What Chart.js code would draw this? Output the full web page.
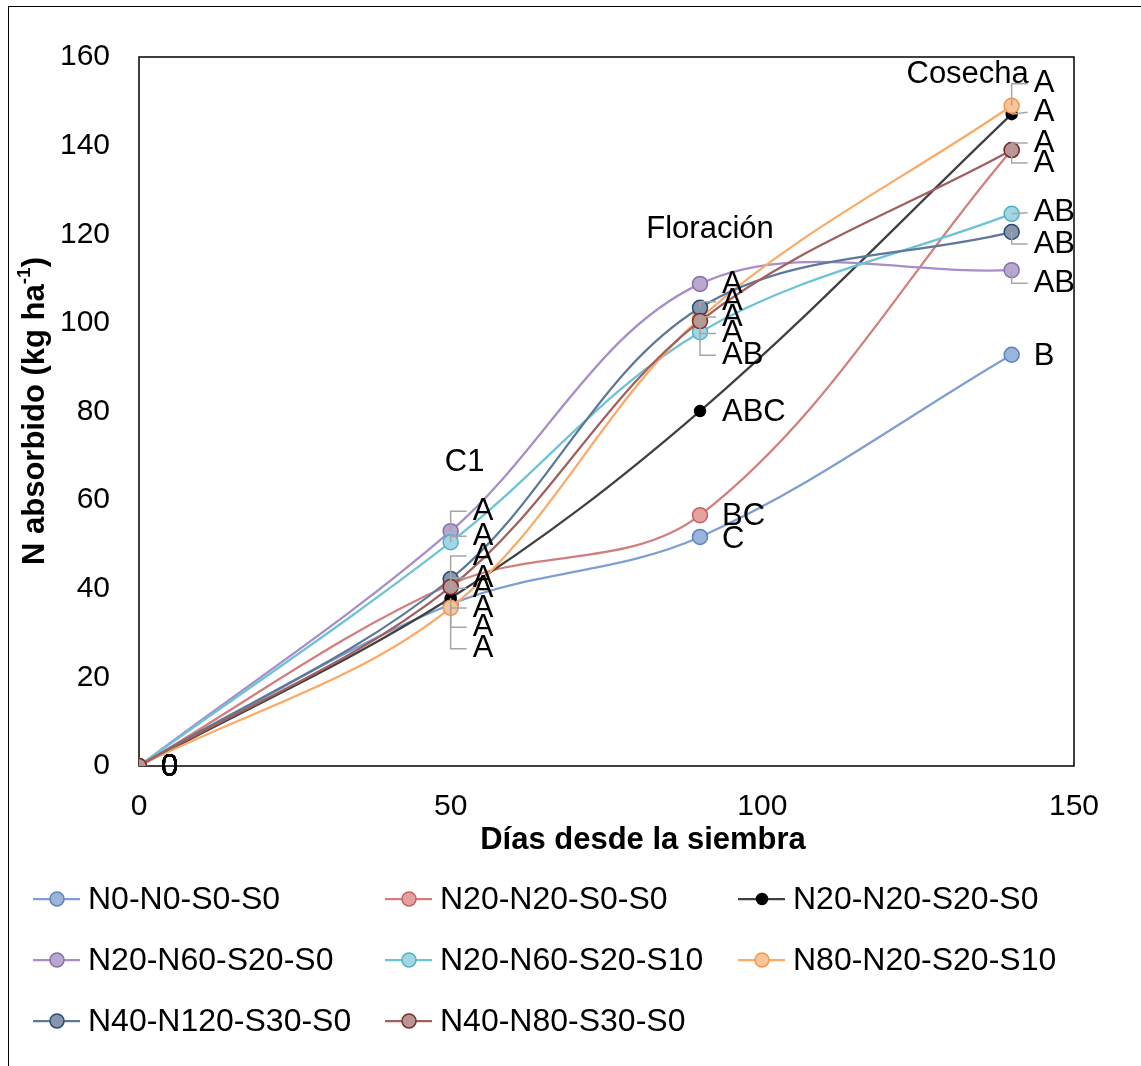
<!DOCTYPE html>
<html>
<head>
<meta charset="utf-8">
<script src="https://cdn.jsdelivr.net/npm/chart.js@4"></script>
<style>
body { margin: 0; background: #fff; overflow: hidden; }
#wrap { position: relative; width: 1141px; height: 1066px; }
#marco { position: absolute; left: 8px; top: 6px; width: 1200px; height: 1200px; border: 1.5px solid #000; pointer-events: none; }
</style>
</head>
<body>
<div id="wrap">
  <canvas id="myChart" width="1141" height="1066"></canvas>
  <div id="marco"></div>
</div>
<script>
// dias de muestreo
const dias = [0, 50, 90, 140];

const tratamientos = ['N0-N0-S0-S0', 'N20-N20-S0-S0', 'N20-N20-S20-S0', 'N20-N60-S20-S0',
  'N20-N60-S20-S10', 'N80-N20-S20-S10', 'N40-N120-S30-S0', 'N40-N80-S30-S0'];

// N absorbido (kg/ha) por tratamiento
const n0n0s0s0 = [0, 36.5, 51.7, 92.8];
const n20n20s0s0 = [0, 41, 56.6, 139];
const n20n20s20s0 = [0, 37.9, 80.1, 147.1];
const n20n60s20s0 = [0, 53.0, 108.8, 111.9];
const n20n60s20s10 = [0, 50.5, 97.9, 124.6];
const n80n20s20s10 = [0, 35.7, 101, 149.0];
const n40n120s30s0 = [0, 42.2, 103.4, 120.5];
const n40n80s30s0 = [0, 40.4, 100.4, 139.0];
const valores = [n0n0s0s0, n20n20s0s0, n20n20s20s0, n20n60s20s0, n20n60s20s10, n80n20s20s10, n40n120s30s0, n40n80s30s0];

// letras de significancia en C1, floracion y cosecha
const letrasC1 = ['A', 'A', 'A', 'A', 'A', 'A', 'A', 'A'];
const letrasFloracion = ['C', 'BC', 'ABC', 'A', 'AB', 'A', 'A', 'A'];
const letrasCosecha = ['B', 'A', 'A', 'AB', 'AB', 'A', 'AB', 'A'];
const etapas = ['C1', 'Floración', 'Cosecha'];

// colores
const colorLinea = ['#7f9fd3', '#d27e7c', '#404040', '#a78dc9', '#6dc3d6', '#fbaa66', '#5d7899', '#a0605e'];
const colorRelleno = ['#9bb4db', '#e3a2a0', '#000000', '#b8a7cf', '#a3d6e4', '#f9c49a', '#8596ad', '#b79795'];
const colorBorde = ['#5b83c1', '#c9605c', '#000000', '#8a6eab', '#4fb1c9', '#f49749', '#2b4a72', '#7a2d2b'];

// desplazamiento vertical (px) de cada etiqueta y si lleva linea guia
const despC1 = [[23, 1], [4, 1], [10, 1], [-20, 1], [-6, 1], [41, 1], [-23, 1], [-9, 1]];
const despFlor = [[3, 0], [1, 0], [1, 0], [1, 0], [23, 1], [15, 1], [-6, 1], [-4, 1]];
const despCos = [[2, 0], [13, 1], [-2, 1], [13, 1], [-1, 1], [-22, 1], [12, 1], [-7, 1]];
const posEtapas = [[50, 68.4, 14], [90, 121, 10], [140, 156, -44]];

const fuente = '"Liberation Sans", Arial, sans-serif';
Chart.defaults.font.family = fuente;
Chart.defaults.font.size = 30;
Chart.defaults.color = '#000';

const datasets = tratamientos.map((nombre, i) => ({
  label: nombre,
  data: dias.map((d, k) => ({ x: d, y: valores[i][k] })),
  borderColor: colorLinea[i],
  borderWidth: 2.25,
  backgroundColor: colorRelleno[i],
  pointBackgroundColor: colorRelleno[i],
  pointBorderColor: colorBorde[i],
  pointBorderWidth: 1.5,
  pointRadius: i === 2 ? 5.5 : 7.5,
  tension: 0.35,
  fill: false,
  order: 7 - i
}));

const extras = {
  id: 'extras',
  beforeDatasetsDraw(chart) {
    const { ctx, chartArea: a } = chart;
    ctx.save();
    ctx.strokeStyle = '#000';
    ctx.lineWidth = 1.5;
    ctx.strokeRect(a.left, a.top, a.right - a.left, a.bottom - a.top);
    ctx.restore();
  },
  afterDatasetsDraw(chart) {
    const { ctx } = chart;
    const xs = chart.scales.x, ys = chart.scales.y;
    const grupos = [[letrasC1, despC1], [letrasFloracion, despFlor], [letrasCosecha, despCos]];
    ctx.save();
    ctx.font = '31px ' + fuente;
    ctx.textBaseline = 'middle';
    ctx.textAlign = 'left';
    // etiquetas de 0 en el origen
    valores.forEach(() => ctx.fillText('0', xs.getPixelForValue(0) + 22, ys.getPixelForValue(0) + 1));
    grupos.forEach(([letras, desp], e) => {
      const k = e + 1;
      valores.forEach((serie, i) => {
        const px = xs.getPixelForValue(dias[k]);
        const py = ys.getPixelForValue(serie[k]);
        const ly = py + desp[i][0];
        const lx = px + 22;
        if (desp[i][1]) {
          ctx.strokeStyle = '#a6a6a6';
          ctx.lineWidth = 1.5;
          ctx.beginPath();
          ctx.moveTo(px, py);
          if (Math.abs(ly - py) > 3) ctx.lineTo(px, ly);
          ctx.lineTo(lx - 6, ly);
          ctx.stroke();
        }
        ctx.fillStyle = '#000';
        ctx.fillText(letras[i], lx, ly);
      });
    });
    // nombres de las etapas
    ctx.textAlign = 'center';
    etapas.forEach((t, e) => {
      const [dx, vy, off] = posEtapas[e];
      ctx.fillText(t, xs.getPixelForValue(dx) + off, ys.getPixelForValue(vy));
    });
    ctx.restore();
  },
  afterDraw(chart) {
    const { ctx } = chart;
    ctx.save();
    ctx.fillStyle = '#000';
    ctx.textBaseline = 'middle';
    // titulo eje x
    ctx.textAlign = 'center';
    ctx.font = 'bold 31px ' + fuente;
    ctx.fillText('Días desde la siembra', 643, 840);
    // titulo eje y con superindice
    ctx.translate(35, 411);
    ctx.rotate(-Math.PI / 2);
    ctx.textAlign = 'left';
    const t1 = 'N absorbido (kg ha', t2 = '-1', t3 = ')';
    ctx.font = 'bold 31px ' + fuente;
    const w1 = ctx.measureText(t1).width, w3 = ctx.measureText(t3).width;
    ctx.font = 'bold 19px ' + fuente;
    const w2 = ctx.measureText(t2).width;
    const x0 = -(w1 + w2 + w3) / 2;
    ctx.font = 'bold 31px ' + fuente;
    ctx.fillText(t1, x0, 0);
    ctx.font = 'bold 19px ' + fuente;
    ctx.fillText(t2, x0 + w1, -10);
    ctx.font = 'bold 31px ' + fuente;
    ctx.fillText(t3, x0 + w1 + w2, 0);
    ctx.restore();

    // leyenda en tres columnas
    const colX = [33, 385, 738];
    const filaY = [899, 960, 1021];
    ctx.save();
    ctx.font = '32px ' + fuente;
    ctx.textBaseline = 'middle';
    tratamientos.forEach((nombre, i) => {
      const x = colX[i % 3], y = filaY[Math.floor(i / 3)];
      ctx.strokeStyle = colorLinea[i];
      ctx.lineWidth = 2.25;
      ctx.beginPath();
      ctx.moveTo(x, y);
      ctx.lineTo(x + 47, y);
      ctx.stroke();
      ctx.beginPath();
      ctx.arc(x + 24, y, i === 2 ? 5.5 : 7, 0, Math.PI * 2);
      ctx.fillStyle = colorRelleno[i];
      ctx.fill();
      ctx.strokeStyle = colorBorde[i];
      ctx.lineWidth = 1.5;
      ctx.stroke();
      ctx.fillStyle = '#000';
      ctx.fillText(nombre, x + 55, y + 1);
    });
    ctx.restore();
  }
};

const ctx = document.getElementById('myChart').getContext('2d');
new Chart(ctx, {
  type: 'line',
  data: { datasets: datasets },
  options: {
    responsive: false,
    animation: false,
    devicePixelRatio: 1,
    layout: { padding: { left: 0, top: 57, right: 67, bottom: 206 } },
    plugins: { legend: { display: false }, tooltip: { enabled: false } },
    scales: {
      x: {
        type: 'linear', min: 0, max: 150,
        ticks: { stepSize: 50, padding: 23 },
        grid: { display: false, drawTicks: false },
        border: { display: false },
        afterFit(scale) { scale.height = 94; }
      },
      y: {
        min: 0, max: 160,
        ticks: { stepSize: 20, padding: 29 },
        grid: { display: false, drawTicks: false },
        border: { display: false },
        afterFit(scale) { scale.width = 139; }
      }
    }
  },
  plugins: [extras]
});
</script>
</body>
</html>
